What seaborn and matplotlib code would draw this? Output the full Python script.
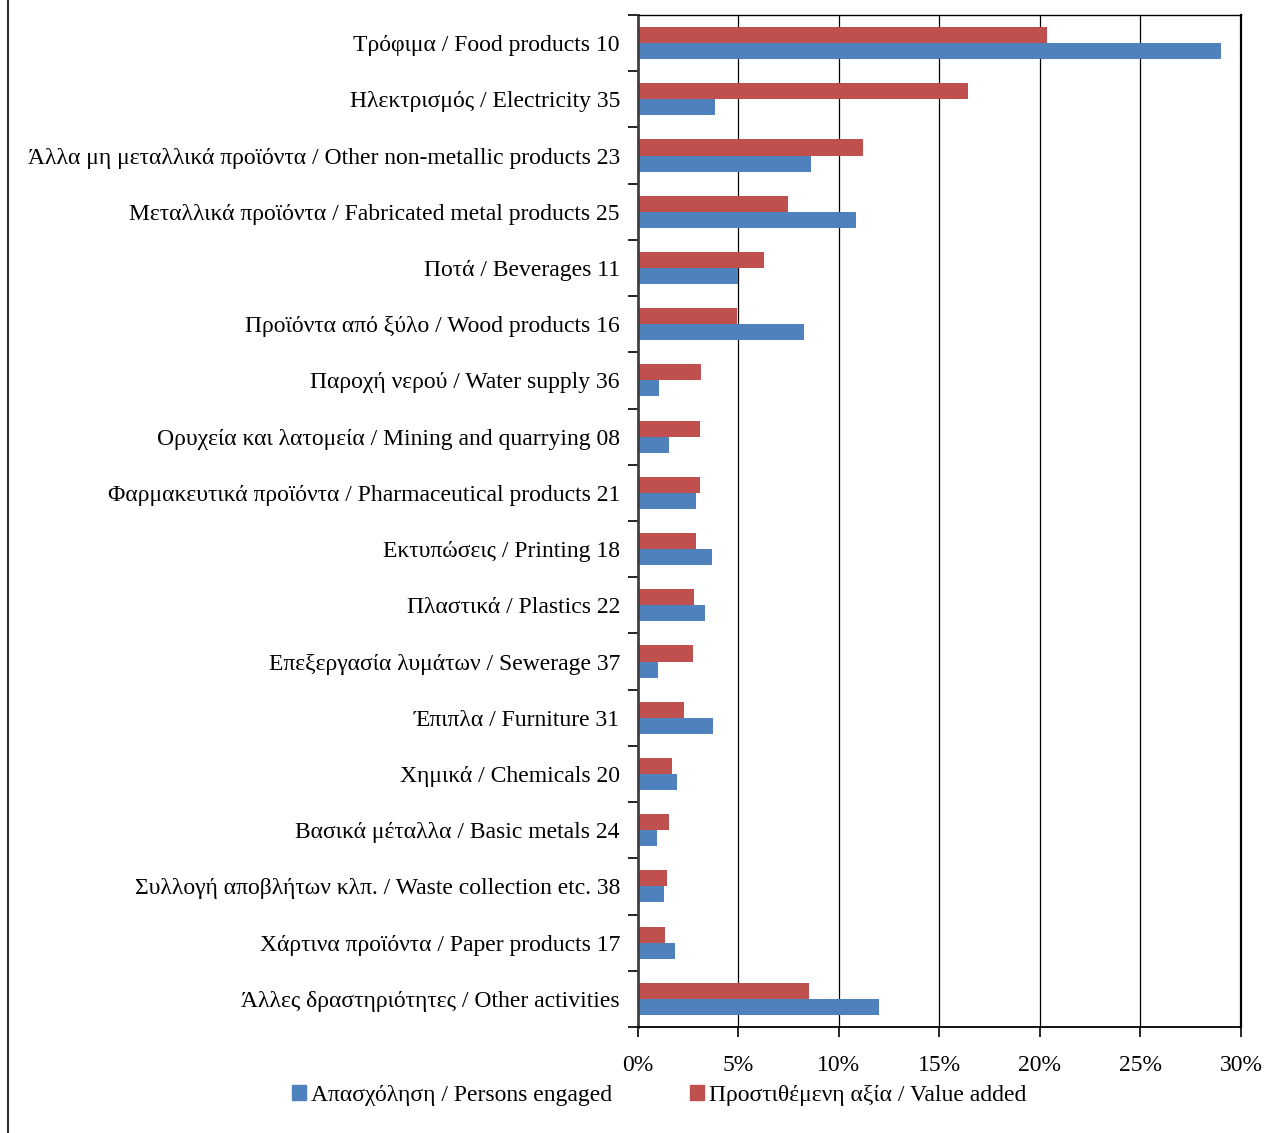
import pandas as pd
import matplotlib.pyplot as plt
import seaborn as sns
from matplotlib.patches import Patch
from matplotlib.ticker import FixedLocator, PercentFormatter

#Sector labels, top to bottom
sectors = ['Τρόφιμα / Food products 10',
           'Ηλεκτρισμός / Electricity 35',
           'Άλλα μη μεταλλικά προϊόντα / Other non-metallic products 23',
           'Μεταλλικά προϊόντα / Fabricated metal products 25',
           'Ποτά / Beverages 11',
           'Προϊόντα από ξύλο / Wood products 16',
           'Παροχή νερού / Water supply 36',
           'Ορυχεία και λατομεία / Mining and quarrying 08',
           'Φαρμακευτικά προϊόντα / Pharmaceutical products 21',
           'Εκτυπώσεις / Printing 18',
           'Πλαστικά / Plastics 22',
           'Επεξεργασία λυμάτων / Sewerage 37',
           'Έπιπλα / Furniture 31',
           'Χημικά / Chemicals 20',
           'Βασικά μέταλλα / Basic metals 24',
           'Συλλογή αποβλήτων κλπ. / Waste collection etc. 38',
           'Χάρτινα προϊόντα / Paper products 17',
           'Άλλες δραστηριότητες / Other activities']

#Shares in %
value_added = [20.35, 16.4, 11.2, 7.46, 6.27, 4.93, 3.13, 3.08, 3.08, 2.89,
               2.79, 2.74, 2.29, 1.69, 1.54, 1.44, 1.34, 8.5]
persons_engaged = [29.0, 3.83, 8.6, 10.85, 5.0, 8.26, 1.04, 1.54, 2.89, 3.68,
                   3.33, 1.0, 3.73, 1.94, 0.95, 1.29, 1.84, 12.0]

va_name = 'Προστιθέμενη αξία / Value added'
pe_name = 'Απασχόληση / Persons engaged'

df = pd.DataFrame({'sector': sectors * 2,
                   'value': value_added + persons_engaged,
                   'series': [va_name] * len(sectors) + [pe_name] * len(sectors)})

sns.set_theme(style='white')
plt.rcParams['font.family'] = ['Liberation Serif', 'DejaVu Serif']
plt.rcParams['text.color'] = 'black'
plt.rcParams['xtick.color'] = 'black'
plt.rcParams['ytick.color'] = 'black'

red = '#c0504d'
blue = '#4f81bd'

fig = plt.figure(figsize=(12.65, 11.33), dpi=100)
ax = fig.add_axes([0.5043, 0.0936, 0.981 - 0.5043, 0.9868 - 0.0936])

sns.barplot(data=df, x='value', y='sector', hue='series', orient='h',
            hue_order=[va_name, pe_name], palette=[red, blue],
            width=0.57, saturation=1, linewidth=0, ax=ax, legend=False)

ax.set_xlim(0, 30)
ax.set_ylim(len(sectors) - 0.5, -0.5)
ax.set_xticks(range(0, 31, 5))
ax.xaxis.set_major_formatter(PercentFormatter(decimals=0))
for x in range(5, 30, 5):
    ax.axvline(x, color='black', lw=0.9, zorder=0)

#category boundary ticks on the left
ax.yaxis.set_minor_locator(FixedLocator([i - 0.5 for i in range(len(sectors) + 1)]))
ax.tick_params(axis='y', which='major', length=0, pad=13, labelsize=17)
ax.tick_params(axis='y', which='minor', left=True, length=7, width=1.2, color='black')
ax.tick_params(axis='x', which='major', bottom=True, length=7, width=1.2,
               color='black', pad=13, labelsize=17)

for s in ax.spines.values():
    s.set_color('black')
    s.set_linewidth(1)
ax.spines['left'].set_color('#404040')
ax.spines['left'].set_linewidth(2)
ax.spines['bottom'].set_linewidth(1.3)
ax.spines['right'].set_linewidth(1.6)

ax.set_xlabel('')
ax.set_ylabel('')

handles = [Patch(color=blue, label=pe_name), Patch(color=red, label=va_name)]
fig.legend(handles=handles, loc='center', bbox_to_anchor=(0.521, 0.033), ncol=2,
           frameon=False, fontsize=17, handlelength=0.6, handleheight=0.6,
           handletextpad=0.2, columnspacing=3.3)

#figure frame line on the left
fig.add_artist(plt.Line2D([0.0065, 0.0065], [0, 1], color='#303030', lw=1.5,
                          transform=fig.transFigure))

plt.savefig('out.png', dpi=100)
